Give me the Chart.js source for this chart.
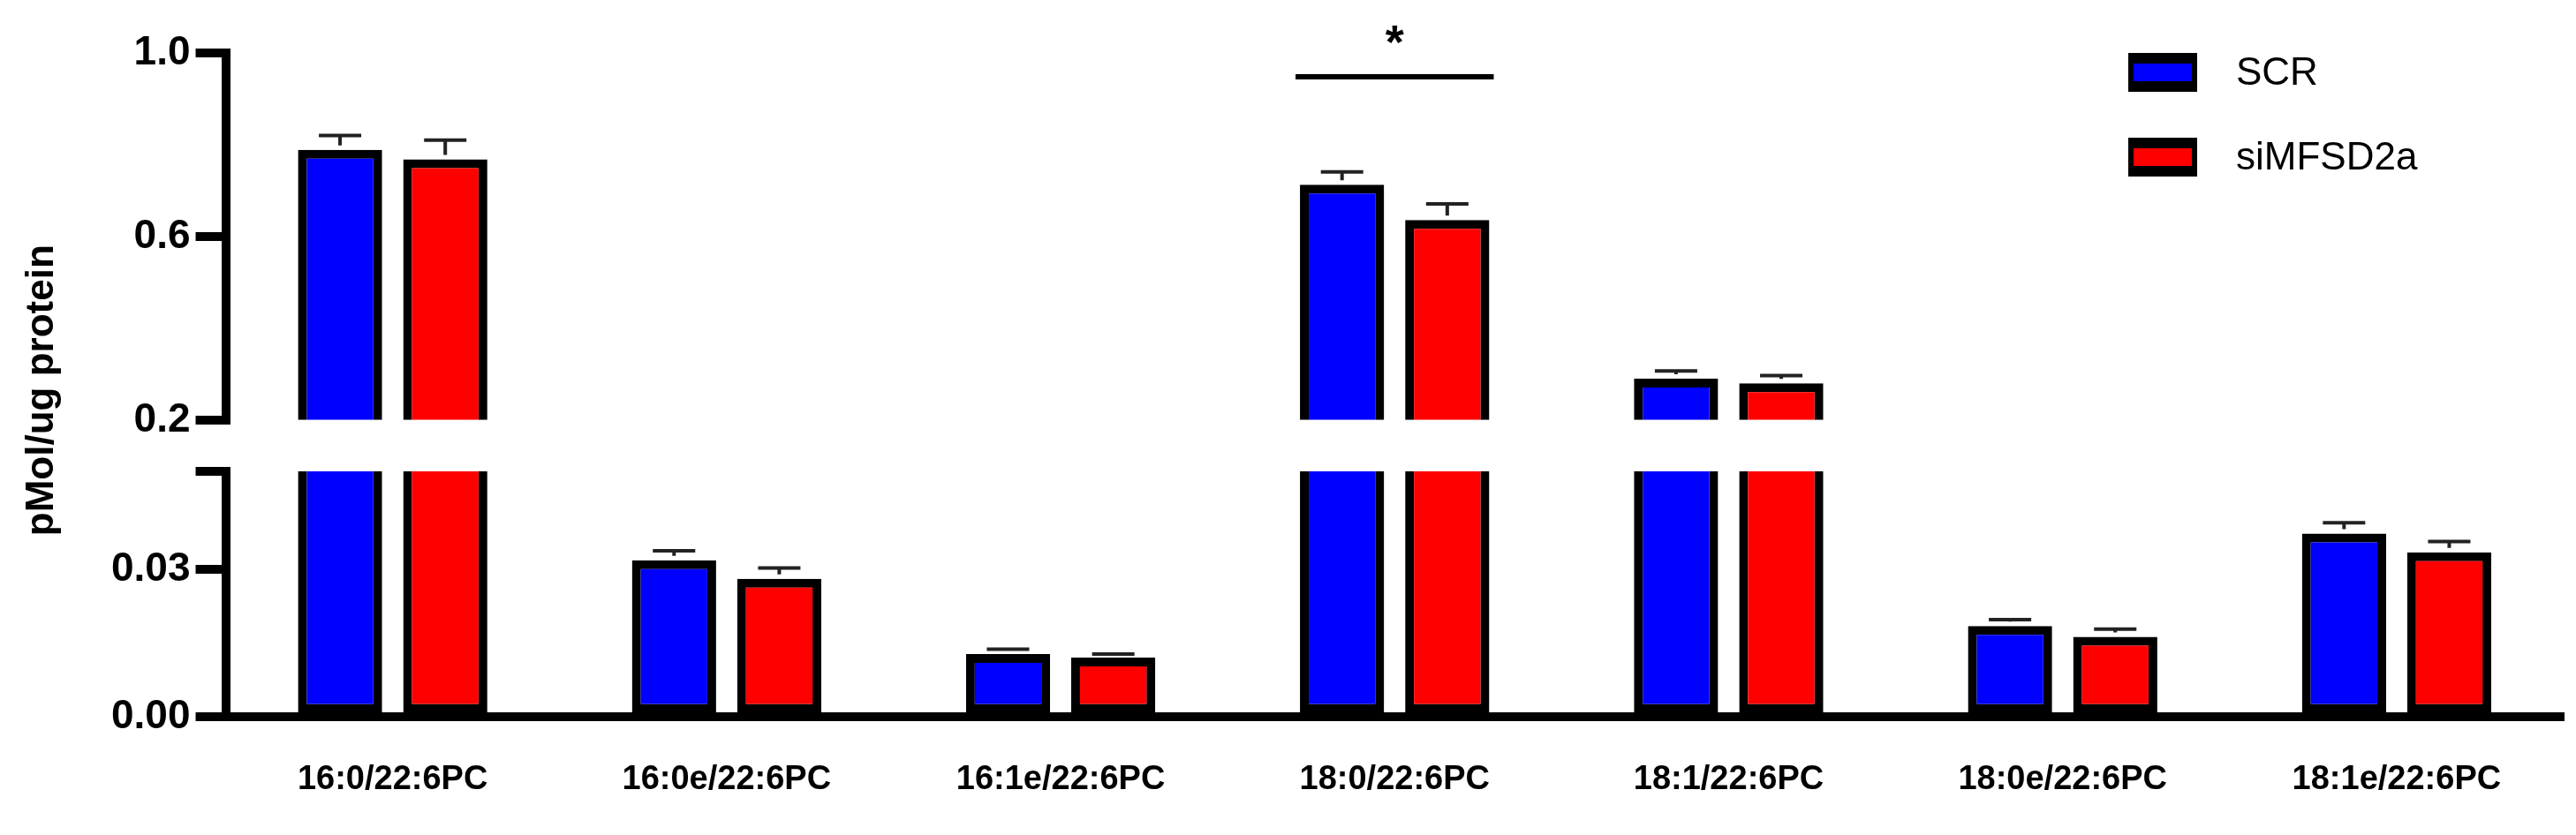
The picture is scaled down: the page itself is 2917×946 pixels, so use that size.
<!DOCTYPE html>
<html>
<head>
<meta charset="utf-8">
<script src="https://cdn.jsdelivr.net/npm/chart.js@4.4.1/dist/chart.umd.min.js"></script>
<style>
  html, body { margin: 0; padding: 0; background: #fff; }
  #wrap { width: 2917px; height: 946px; }
</style>
</head>
<body>
<div id="wrap"><canvas id="myChart"></canvas></div>
<script>
const categories = ['16:0/22:6PC', '16:0e/22:6PC', '16:1e/22:6PC', '18:0/22:6PC', '18:1/22:6PC', '18:0e/22:6PC', '18:1e/22:6PC'];
const scrValues = [0.789, 0.0319, 0.0128, 0.713, 0.29, 0.0185, 0.0373];
const scrErrors = [0.031, 0.0019, 0.0010, 0.028, 0.017, 0.0013, 0.0022];
const siValues = [0.768, 0.0281, 0.0121, 0.636, 0.28, 0.0163, 0.0335];
const siErrors = [0.042, 0.0022, 0.0007, 0.035, 0.017, 0.0016, 0.0022];
const topTicks = [0.2, 0.6, 1.0];
const bottomTicks = [0, 0.03, 0.05];
const bottomTickLabels = ['0.00', '0.03', ''];
const seriesNames = ['SCR', 'siMFSD2a'];
const seriesColors = ['#0000ff', '#ff0000'];
const sigCategory = 3;   // '18:0/22:6PC'
const sigLevel = 0.948;  // height of the significance line on the upper scale

const makeSet = (i, values, errors, axis) => ({
  label: seriesNames[i],
  data: values,
  errors: errors,
  yAxisID: axis,
  stack: seriesNames[i], // same slot for both halves of the broken axis
  backgroundColor: seriesColors[i],
  borderColor: '#000',
  borderWidth: 10,
  borderSkipped: false,
  categoryPercentage: 0.63,
  barPercentage: 0.8,
});

// clip each dataset to its own segment of the broken axis
const segmentClip = {
  id: 'segmentClip',
  beforeDatasetDraw(chart, args) {
    const ds = chart.data.datasets[args.index];
    const s = chart.scales[ds.yAxisID];
    const ctx = chart.ctx;
    ctx.save();
    ctx.beginPath();
    ctx.rect(0, s.top, chart.width, s.bottom - s.top);
    ctx.clip();
  },
  afterDatasetDraw(chart) {
    chart.ctx.restore();
  }
};

const extras = {
  id: 'extras',
  afterDatasetsDraw(chart) {
    const ctx = chart.ctx;
    ctx.save();
    // error bars (upward only)
    chart.data.datasets.forEach((ds, di) => {
      const meta = chart.getDatasetMeta(di);
      const s = chart.scales[ds.yAxisID];
      meta.data.forEach((bar, i) => {
        const v = ds.data[i];
        if (v < s.min || v > s.max) return;
        const y0 = s.getPixelForValue(v) - 5;
        const y1 = s.getPixelForValue(v + ds.errors[i]);
        ctx.strokeStyle = '#222';
        ctx.lineWidth = 4;
        ctx.beginPath();
        ctx.moveTo(bar.x, y0);
        ctx.lineTo(bar.x, y1);
        ctx.moveTo(bar.x - 24, y1);
        ctx.lineTo(bar.x + 24, y1);
        ctx.stroke();
      });
    });
    // significance line and star
    const yTop = chart.scales.yTop;
    const m0 = chart.getDatasetMeta(2).data[sigCategory];
    const m1 = chart.getDatasetMeta(3).data[sigCategory];
    const ys = yTop.getPixelForValue(sigLevel);
    ctx.strokeStyle = '#000';
    ctx.lineWidth = 6;
    ctx.beginPath();
    ctx.moveTo(m0.x - m0.width / 2 - 5, ys);
    ctx.lineTo(m1.x + m1.width / 2 + 5, ys);
    ctx.stroke();
    ctx.fillStyle = '#000';
    ctx.font = 'bold 54px "Liberation Sans", Arial, sans-serif';
    ctx.textAlign = 'center';
    ctx.textBaseline = 'middle';
    ctx.fillText('*', (m0.x + m1.x) / 2, ys - 36);
    // legend
    const lx = 2410, ly = [82, 178];
    seriesNames.forEach((n, i) => {
      ctx.fillStyle = '#000';
      ctx.fillRect(lx, ly[i] - 22, 78, 44);
      ctx.fillStyle = seriesColors[i];
      ctx.fillRect(lx + 6, ly[i] - 10, 66, 20);
      ctx.fillStyle = '#000';
      ctx.font = '44px "Liberation Sans", Arial, sans-serif';
      ctx.textAlign = 'left';
      ctx.fillText(n, lx + 122, ly[i] + 2);
    });
    // y title
    ctx.save();
    ctx.translate(48, (chart.chartArea.top + chart.chartArea.bottom) / 2 + 6);
    ctx.rotate(-Math.PI / 2);
    ctx.textAlign = 'center';
    ctx.font = 'bold 44px "Liberation Sans", Arial, sans-serif';
    ctx.fillText('pMol/ug protein', 0, 0);
    ctx.restore();
    ctx.restore();
  }
};

const tickFont = { family: '"Liberation Sans", Arial, sans-serif', weight: 'bold', size: 46 };

new Chart(document.getElementById('myChart'), {
  type: 'bar',
  data: {
    labels: categories,
    datasets: [
      makeSet(0, scrValues, scrErrors, 'yBot'),
      makeSet(1, siValues, siErrors, 'yBot'),
      makeSet(0, scrValues, scrErrors, 'yTop'),
      makeSet(1, siValues, siErrors, 'yTop'),
    ]
  },
  options: {
    responsive: true,
    maintainAspectRatio: false,
    animation: false,
    layout: { padding: { left: 120, top: 60, right: 14, bottom: 0 } },
    plugins: { legend: { display: false }, tooltip: { enabled: false } },
    scales: {
      x: {
        grid: { display: false },
        border: { color: '#000', width: 10 },
        ticks: { color: '#000', padding: 40, font: { ...tickFont, size: 38 } }
      },
      yBot: {
        stack: 'y', stackWeight: 288, position: 'left',
        min: 0, max: 0.05,
        afterBuildTicks: (s) => { s.ticks = bottomTicks.map(v => ({ value: v })); },
        ticks: { color: '#000', font: tickFont, padding: 6,
                 callback: (v, i) => bottomTickLabels[i] },
        grid: { drawOnChartArea: false, color: '#000', lineWidth: 10, tickLength: 34 },
        border: { color: '#000', width: 10 }
      },
      yGap: {
        stack: 'y', stackWeight: 60, position: 'left',
        min: 0, max: 1,
        ticks: { display: false },
        grid: { display: false },
        border: { display: false }
      },
      yTop: {
        stack: 'y', stackWeight: 430, position: 'left',
        min: 0.2, max: 1.0,
        afterBuildTicks: (s) => { s.ticks = topTicks.map(v => ({ value: v })); },
        ticks: { color: '#000', font: tickFont, padding: 6,
                 callback: (v) => v.toFixed(1) },
        grid: { drawOnChartArea: false, color: '#000', lineWidth: 10, tickLength: 34 },
        border: { color: '#000', width: 10 }
      }
    }
  },
  plugins: [segmentClip, extras]
});
</script>
</body>
</html>
